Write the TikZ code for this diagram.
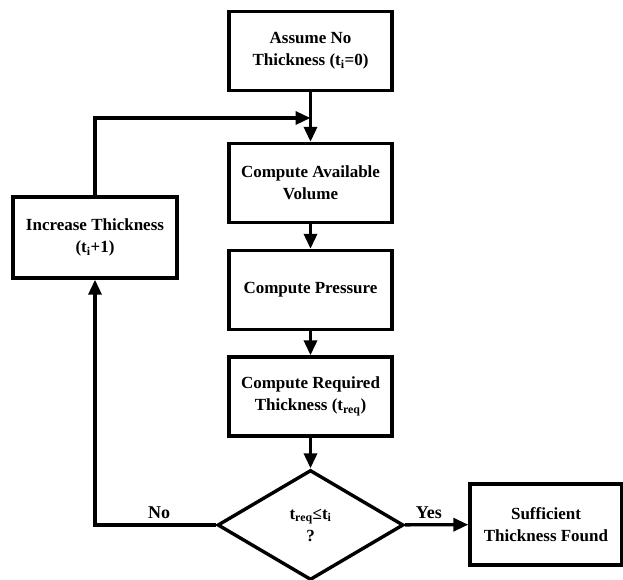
\documentclass[tikz,border=0pt]{standalone}
\usepackage{fontspec}
\setmainfont{Liberation Serif}
\usetikzlibrary{shapes.geometric,arrows.meta}

\begin{document}
\begin{tikzpicture}[x=1pt,y=-1pt,
    box/.style={draw,line width=3.4pt,minimum width=163pt,minimum height=79pt,align=center,font=\bfseries\fontsize{17}{22}\selectfont},
    decide/.style={draw,diamond,line width=3.4pt,aspect=1.69,minimum width=186pt,minimum height=110pt,inner sep=0pt,align=center,font=\bfseries\fontsize{17}{22}\selectfont},
    flow/.style={line width=3.4pt,-{Triangle[length=15pt,width=13pt]}},
    lbl/.style={font=\bfseries\fontsize{18}{20}\selectfont}]
    \useasboundingbox (0,0) rectangle (623,579);
    %\draw[help lines] (0,0) grid[step=50] (623,579);
    \node[box] (assume) at (310.5,51) {Assume No\\Thickness (t\textsubscript{i}=0)};
    \node[box] (volume) at (310.5,183) {Compute Available\\Volume};
    \node[box] (pressure) at (310.5,290) {Compute Pressure};
    \node[box] (required) at (310.5,396.5) {Compute Required\\Thickness (t\textsubscript{req})};
    \node[decide] (check) at (310.5,525) {t\textsubscript{req}≤t\textsubscript{i}\\?};
    \node[box,minimum width=152pt,minimum height=81pt] (found) at (546,524.5) {Sufficient\\Thickness Found};
    \node[box,minimum width=164pt,minimum height=81pt] (increase) at (95,237.5) {Increase Thickness\\(t\textsubscript{i}+1)};
    \coordinate (join) at (310.5,118);
        \draw[flow] (assume) -- (volume);
        \draw[flow] (volume) -- (pressure);
        \draw[flow] (pressure) -- (required);
        \draw[flow] (required) -- (check);
        \draw[flow] (check) -- node[lbl,above=1pt,pos=0.38] {Yes} (found);
        \draw[flow] (check.west) -- node[lbl,above=1pt,pos=0.47] {No} (increase.south |- check.west) -- (increase.south);
        \draw[flow] (increase.north) |- (join);
\end{tikzpicture}
\end{document}
